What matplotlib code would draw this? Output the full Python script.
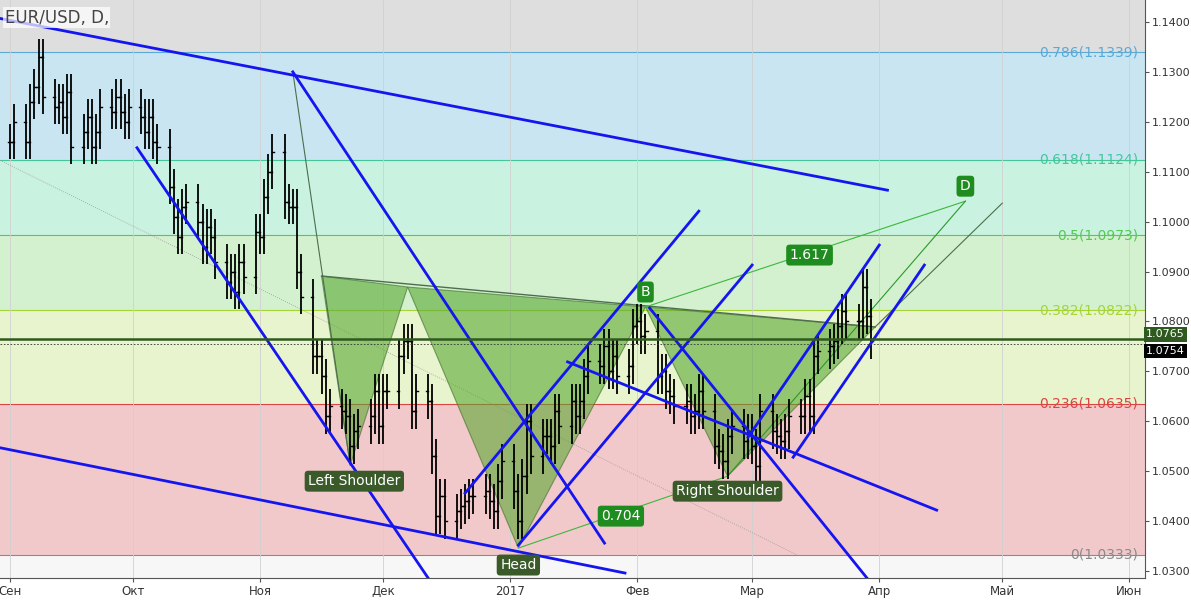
import matplotlib
matplotlib.use("Agg")
import matplotlib.pyplot as plt
import matplotlib.dates as mdates
import pandas as pd
import numpy as np

closes = [
 1.116,1.120,1.116,1.124,1.127,1.133,1.125,1.123,1.124,1.121,1.126,1.115,1.118,1.121,1.115,1.118,1.123,1.122,1.125,1.122,1.120,1.123,
 1.121,1.118,1.121,1.116,1.115,1.107,1.101,1.097,1.103,1.104,1.100,1.095,1.099,1.097,1.092,1.088,1.090,1.086,1.092,1.089,1.098,
 1.097,1.105,1.110,1.114,1.104,1.103,1.103,1.090,1.085,1.073,1.073,1.069,1.061,1.063,1.062,1.061,1.055,1.058,1.059,1.061,1.066,1.059,
 1.066,1.066,1.073,1.076,1.076,1.062,1.066,1.064,1.053,1.041,1.045,1.040,1.042,1.043,1.044,1.045,1.045,1.046,1.044,1.042,1.048,1.052,
 1.046,1.040,1.049,1.060,1.053,1.057,1.057,1.055,1.062,1.059,1.064,1.061,1.064,1.069,1.072,1.071,1.075,1.070,1.073,1.069,1.071,1.079,
 1.080,1.077,1.078,1.069,1.070,1.066,1.065,1.063,1.064,1.061,1.062,1.066,1.062,1.055,1.054,1.052,1.057,1.059,1.056,1.058,
 1.055,1.051,1.062,1.058,1.057,1.056,1.058,1.061,1.061,1.065,1.061,1.073,1.074,1.075,1.076,1.079,1.082,1.080,1.080,1.087,1.081,1.076,
]
wick = 0.0035

fib_levels = [0.0, 0.236, 0.382, 0.5, 0.618, 0.786]
fib_prices = [1.0333, 1.0635, 1.0822, 1.0973, 1.1124, 1.1339]
fib_line_colors = ['#8a8a8a', '#d94545', '#a5d535', '#55c855', '#43c79a', '#5aa9d6']
fib_fill_colors = ['#f2c9cb', '#e8f4cd', '#d3f1cf', '#caf2e0', '#c9e5f2', '#dedede']

blue_lines = [
 (('2016-08-29', 1.1408), ('2017-04-03', 1.1063)),
 (('2016-08-29', 1.0548), ('2017-01-29', 1.0296)),
 (('2016-11-09', 1.1300), ('2017-01-24', 1.0356)),
 (('2016-10-02', 1.1148), ('2016-12-12', 1.0286)),
 (('2016-12-21', 1.0456), ('2017-02-16', 1.1021)),
 (('2017-01-03', 1.0352), ('2017-03-01', 1.0913)),
 (('2017-01-15', 1.0719), ('2017-04-15', 1.0422)),
 (('2017-02-04', 1.0827), ('2017-03-29', 1.0286)),
 (('2017-02-28', 1.0568), ('2017-04-01', 1.0953)),
 (('2017-03-11', 1.0528), ('2017-04-12', 1.0913)),
]
triangles = [
 [('2016-11-16', 1.0891), ('2016-11-23', 1.0512), ('2016-12-07', 1.0869)],
 [('2016-12-07', 1.0869), ('2017-01-03', 1.0346), ('2017-02-03', 1.0829)],
 [('2017-02-03', 1.0829), ('2017-02-23', 1.0490), ('2017-03-31', 1.0789)],
]
neck = [('2016-11-16', 1.0891), ('2017-03-31', 1.0789)]
thin_green = [
 (('2017-02-03', 1.0829), ('2017-04-22', 1.1041), '#3cb83c'),
 (('2017-02-23', 1.0490), ('2017-04-22', 1.1041), '#2a9a2a'),
 (('2017-01-03', 1.0346), ('2017-02-23', 1.0490), '#3cb83c'),
 (('2017-03-31', 1.0789), ('2017-05-01', 1.1037), '#4d6e4d'),
 (('2016-11-09', 1.1300), ('2016-11-23', 1.0512), '#4d6e4d'),
]
labels = [
 ('Left Shoulder', '2016-11-24', 1.0480, '#3a5a2a'),
 ('Head', '2017-01-03', 1.0312, '#3a5a2a'),
 ('Right Shoulder', '2017-02-23', 1.0460, '#3a5a2a'),
 ('B', '2017-02-03', 1.0859, '#1e8c1e'),
 ('D', '2017-04-22', 1.1071, '#1e8c1e'),
 ('1.617', '2017-03-15', 1.0933, '#1e8c1e'),
 ('0.704', '2017-01-28', 1.0410, '#1e8c1e'),
]
month_ticks = ['2016-09-01','2016-10-01','2016-11-01','2016-12-01','2017-01-01','2017-02-01','2017-03-01','2017-04-01','2017-05-01','2017-06-01']
month_labels = ['Сен','Окт','Ноя','Дек','2017','Фев','Мар','Апр','Май','Июн']
last_prices = [1.0765, 1.0754]

D = lambda s: mdates.date2num(pd.Timestamp(s))

fig = plt.figure(figsize=(11.91, 6.04), dpi=100)
fig.patch.set_facecolor('white')
ax = fig.add_axes([0, 0.043, 1145/1191, 0.957])
x0, x1 = D('2016-08-29') + 0.6, D('2017-06-04') + 0.8
y0, y1 = 1.0286, 1.1444
ax.set_xlim(x0, x1); ax.set_ylim(y0, y1)
ax.set_facecolor('#f7f7f7')

tops = fib_prices[1:] + [y1]
for lo, hi, c in zip(fib_prices, tops, fib_fill_colors):
    ax.axhspan(lo, hi, color=c, zorder=0, lw=0)
for lvl, p, c in zip(fib_levels, fib_prices, fib_line_colors):
    ax.axhline(p, color=c, lw=0.8, zorder=1)
    ax.text(0.994, p, f'{lvl:g}({p:.4f})', transform=ax.get_yaxis_transform(),
            ha='right', va='center', color=c, fontsize=10)

for t in month_ticks:
    ax.axvline(D(t), color='#d0d0d0', lw=0.6, zorder=1)

ax.plot([x0, D('2017-03-12')], [1.1123, 1.0332], color='#999999', lw=0.6, ls=':', zorder=2)

for tri in triangles:
    xs = [D(a) for a, b in tri]; ys = [b for a, b in tri]
    ax.fill(xs, ys, facecolor='#5aa832', alpha=0.6, edgecolor='#3d6b2a', lw=0.8, zorder=2)
ax.plot([D(a) for a, b in neck], [b for a, b in neck], color='#4d6e4d', lw=1.0, zorder=3)
for (a, b, c) in thin_green:
    ax.plot([D(a[0]), D(b[0])], [a[1], b[1]], color=c, lw=0.8, zorder=3)

dates = pd.bdate_range('2016-09-01', periods=len(closes))
xd = mdates.date2num(dates)
opens = [closes[0]] + closes[:-1]
for x, o, c in zip(xd, opens, closes):
    hi = max(o, c) + wick; lo = min(o, c) - wick
    ax.plot([x, x], [lo, hi], color='black', lw=1.3, zorder=4, solid_capstyle='butt')
    ax.plot([x - 0.5, x], [o, o], color='black', lw=1.0, zorder=4)
    ax.plot([x, x + 0.5], [c, c], color='black', lw=1.0, zorder=4)

for a, b in blue_lines:
    ax.plot([D(a[0]), D(b[0])], [a[1], b[1]], color='#1515f0', lw=2, zorder=5)

ax.axhline(last_prices[0], color='#2f5a1f', lw=1.8, zorder=5)
ax.axhline(last_prices[1], color='#333333', lw=0.6, ls=(0, (2, 2)), zorder=5)

for txt, d, p, c in labels:
    ax.text(D(d), p, txt, ha='center', va='center', color='white', fontsize=10, zorder=7,
            bbox=dict(boxstyle='round,pad=0.25', fc=c, ec='none'))

ax.text(0.004, 0.985, 'EUR/USD, D,', transform=ax.transAxes, ha='left', va='top',
        fontsize=12, color='#444444', zorder=8,
        bbox=dict(fc='white', ec='none', alpha=0.7, pad=1))

ax.set_xticks([D(t) for t in month_ticks])
ax.set_xticklabels(month_labels, fontsize=8.5, color='#333333')
ax.yaxis.tick_right()
yt = np.round(np.arange(1.03, 1.1401, 0.01), 2)
ax.set_yticks(yt)
ax.set_yticklabels([f'{v:.4f}' for v in yt], fontsize=8, color='#333333')
ax.tick_params(axis='both', length=3, color='#555555', pad=2)
for s in ['top', 'left']:
    ax.spines[s].set_visible(False)
ax.spines['right'].set_color('#555555'); ax.spines['bottom'].set_color('#555555')

ax.text(1.001, last_prices[0] + 0.0009, f'{last_prices[0]:.4f}', transform=ax.get_yaxis_transform(),
        ha='left', va='center', color='white', fontsize=8, zorder=9, clip_on=False,
        bbox=dict(boxstyle='square,pad=0.2', fc='#2f5a1f', ec='none'))
ax.text(1.001, last_prices[1] - 0.0013, f'{last_prices[1]:.4f}', transform=ax.get_yaxis_transform(),
        ha='left', va='center', color='white', fontsize=8, zorder=9, clip_on=False,
        bbox=dict(boxstyle='square,pad=0.2', fc='black', ec='none'))

fig.savefig('out.png', dpi=100)
